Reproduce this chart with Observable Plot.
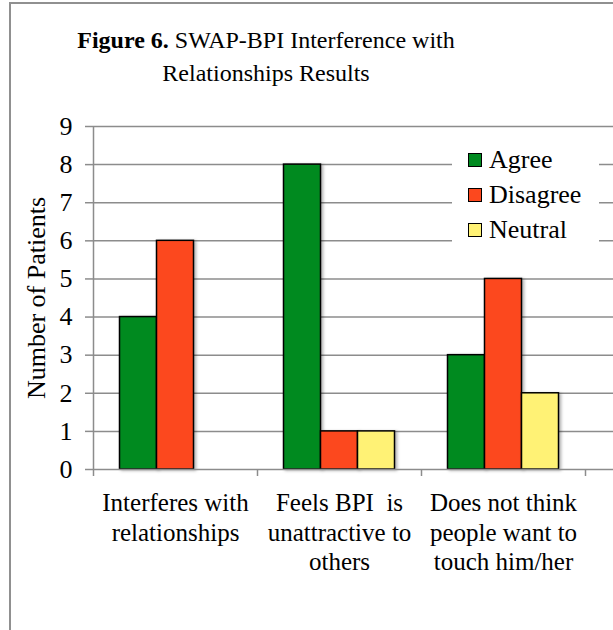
<!DOCTYPE html>
<html>
<head>
<meta charset="utf-8">
<script src="https://cdn.jsdelivr.net/npm/d3@7"></script>
<script src="https://cdn.jsdelivr.net/npm/@observablehq/plot@0.6"></script>
<style>
  html, body { margin: 0; padding: 0; background: #fff; overflow: hidden; }
  #wrap { position: relative; width: 613px; height: 630px; overflow: hidden; font-family: "Liberation Serif", "Times New Roman", serif; color: #000; }
  #borderL { position: absolute; left: 9px; top: 2px; width: 2px; height: 628px; background: #909090; }
  #borderT { position: absolute; left: 9px; top: 2px; width: 604px; height: 2px; background: #909090; }
  #title { position: absolute; left: 0; top: 24px; width: 532px; text-align: center; font-size: 24px; line-height: 33px; }
  #chart { position: absolute; left: 0; top: 0; width: 613px; height: 630px; overflow: hidden; }
  #legend { position: absolute; left: 452px; top: 142px; width: 147px; background: #fff; padding-bottom: 10px; }
  .lrow { position: relative; height: 35px; line-height: 35px; font-size: 26px; padding-left: 37px; white-space: nowrap; }
  .lsw { position: absolute; left: 16px; top: 11px; width: 12px; height: 12px; border: 1.5px solid #000; }
  g[aria-label="rect"] rect { filter: drop-shadow(2px 1px 1.5px rgba(0,0,0,0.3)); }
</style>
</head>
<body>
<div id="wrap">
  <div id="borderL"></div>
  <div id="borderT"></div>
  <div id="chart"></div>
  <div id="title"><b>Figure 6.</b> SWAP-BPI Interference with<br>Relationships Results</div>
  <div id="legend"></div>
</div>
<script>
// ---- data ----
const categories = [
  "Interferes with\nrelationships",
  "Feels BPI\u00a0 is\nunattractive to\nothers",
  "Does not think\npeople want to\ntouch him/her"
];
const series = ["Agree", "Disagree", "Neutral"];
const agree    = [4, 8, 3];
const disagree = [6, 1, 5];
const neutral  = [null, 1, 2];
const colors = ["#008a1f", "#fc481e", "#fff275"];
const yTicks = [0, 1, 2, 3, 4, 5, 6, 7, 8, 9];

// ---- table ----
const values = [agree, disagree, neutral];
const bars = categories.flatMap((c, i) =>
  series.map((s, j) => ({cat: i, slot: j, series: s, value: values[j][i]}))
).filter(d => d.value != null);

const barW = 37 / 164; // bar width as a fraction of one category band
const grid = "#8c8c8c";

const chart = Plot.plot({
  width: 613,
  height: 630,
  marginTop: 126,
  marginBottom: 161,
  marginLeft: 93,
  marginRight: 0,
  style: {fontFamily: "Liberation Serif, Times New Roman, serif", fontSize: "26px", color: "#000", background: "transparent"},
  x: {domain: [0, categories.length], range: [93, 585]},
  y: {domain: [0, 9]},
  color: {domain: series, range: colors},
  marks: [
    Plot.ruleY(yTicks.filter(d => d > 0), {stroke: grid, strokeWidth: 1.5}),
    Plot.rectY(bars, {
      x1: d => d.cat + 0.5 + (d.slot - 1.5) * barW,
      x2: d => d.cat + 0.5 + (d.slot - 0.5) * barW,
      y: "value",
      fill: "series",
      stroke: "#000",
      strokeWidth: 1.5
    }),
    Plot.ruleY([0], {stroke: grid, strokeWidth: 1.5}),
    Plot.ruleX([0], {y1: 0, y2: 9, stroke: grid, strokeWidth: 1.5}),
    Plot.axisY({ticks: yTicks, tickSize: 8, tickPadding: 13, stroke: grid, strokeWidth: 1.5, fontSize: 26,
      label: "Number of Patients", labelAnchor: "center", labelOffset: 67, labelArrow: "none"}),
    Plot.axisX({ticks: d3.range(categories.length + 1), tickSize: 7, stroke: grid, strokeWidth: 1.5, tickFormat: () => "", label: null}),
    Plot.axisX({ticks: categories.map((c, i) => i + 0.5), tickSize: 0, tickPadding: 21, fontSize: 25, lineHeight: 1.18,
      tickFormat: v => categories[Math.round(v - 0.5)], label: null})
  ]
});
document.getElementById("chart").appendChild(chart);

// ---- legend ----
const legend = document.getElementById("legend");
series.forEach((s, i) => {
  const row = document.createElement("div");
  row.className = "lrow";
  const sw = document.createElement("span");
  sw.className = "lsw";
  sw.style.background = colors[i];
  row.appendChild(sw);
  row.appendChild(document.createTextNode(s));
  legend.appendChild(row);
});
</script>
</body>
</html>
